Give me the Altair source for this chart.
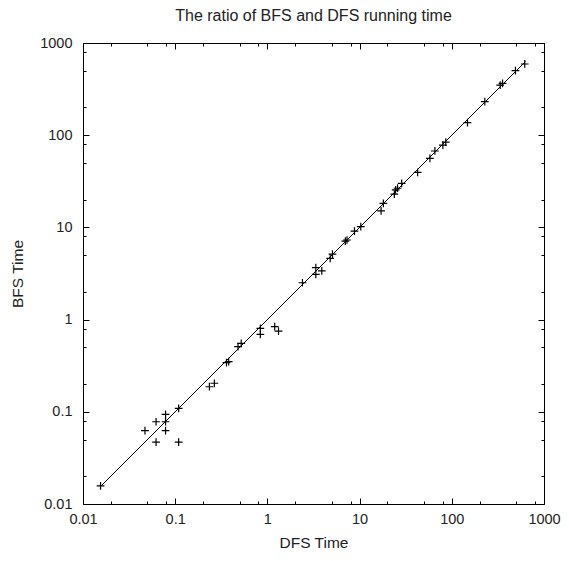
import altair as alt
import pandas as pd

# DFS time (x) and BFS time (y) per instance
dfs_time = [0.0155, 0.047, 0.062, 0.062, 0.0786, 0.0786, 0.0786, 0.109, 0.109,
            0.235, 0.266, 0.36, 0.38, 0.48, 0.52, 0.838, 0.838, 1.2, 1.32,
            2.4, 3.35, 3.89, 3.35, 4.8, 5.08, 7.0, 7.3, 8.8, 10.3,
            17.1, 18.1, 23.8, 24.6, 25.8, 28.6, 42.6, 57.9, 65.6, 80, 86,
            148, 228, 335, 355, 490, 618]
bfs_time = [0.0157, 0.0624, 0.078, 0.047, 0.094, 0.078, 0.0624, 0.109, 0.047,
            0.187, 0.204, 0.342, 0.35, 0.508, 0.553, 0.805, 0.69, 0.84, 0.75,
            2.51, 3.66, 3.37, 3.1, 4.62, 5.14, 7.1, 7.3, 9.1, 10.2,
            15.1, 18.2, 23.0, 25.5, 26.6, 30.1, 39.6, 56.0, 67.4, 78, 84,
            137, 231, 350, 365, 501, 592]

# reference line (BFS = DFS)
line_x = [0.0155, 630]
line_y = [0.0155, 630]

major_ticks = [0.01, 0.1, 1, 10, 100, 1000]
minor_ticks = [0.02, 0.05, 0.08, 0.2, 0.5, 0.8, 2, 5, 8, 20, 50, 80, 200, 500, 800]

pts = pd.DataFrame({"dfs": dfs_time, "bfs": bfs_time})
ln = pd.DataFrame({"dfs": line_x, "bfs": line_y})

FONT = "Liberation Sans"
TXT = "#222222"
MAJ = 6
MIN = 3

xs = alt.Scale(type="log", domain=[0.01, 1000], nice=False)
ys = alt.Scale(type="log", domain=[0.01, 1000], nice=False)

label_expr = "datum.value >= 1 ? format(datum.value, 'd') : format(datum.value, '')"


def axis(orient, values, size, labels=False, title=None, pad=0, tpad=0):
    kw = dict(
        orient=orient, values=values, tickSize=size, offset=-size,
        domain=False, grid=False, tickColor="black", tickWidth=1,
        labels=labels,
    )
    if labels:
        kw.update(labelFont=FONT, labelFontSize=14.5, labelColor=TXT,
                  labelPadding=pad, labelExpr=label_expr, labelFlush=False,
                  labelOverlap=False)
    if title:
        kw.update(title=title, titleFont=FONT, titleFontSize=15.5,
                  titleFontWeight="normal", titleColor=TXT, titlePadding=tpad)
    else:
        kw.update(title=None)
    return alt.Axis(**kw)


points = alt.Chart(pts).mark_point(
    shape="M-1,0L1,0M0,-1L0,1", filled=False, color="black",
    size=60, strokeWidth=1.2, opacity=1
).encode(
    x=alt.X("dfs:Q", scale=xs,
            axis=axis("bottom", major_ticks, MAJ, True, "DFS Time", 8, 10)),
    y=alt.Y("bfs:Q", scale=ys,
            axis=axis("left", major_ticks, MAJ, True, "BFS Time", 11, 14)),
)

line = alt.Chart(ln).mark_line(color="black", strokeWidth=1).encode(
    x=alt.X("dfs:Q", scale=xs, axis=axis("bottom", minor_ticks, MIN)),
    y=alt.Y("bfs:Q", scale=ys, axis=axis("left", minor_ticks, MIN)),
)

mirror_major = alt.Chart(ln).mark_line(opacity=0).encode(
    x=alt.X("dfs:Q", scale=xs, axis=axis("top", major_ticks, MAJ)),
    y=alt.Y("bfs:Q", scale=ys, axis=axis("right", major_ticks, MAJ)),
)

mirror_minor = alt.Chart(ln).mark_line(opacity=0).encode(
    x=alt.X("dfs:Q", scale=xs, axis=axis("top", minor_ticks, MIN)),
    y=alt.Y("bfs:Q", scale=ys, axis=axis("right", minor_ticks, MIN)),
)

chart = alt.layer(points, line, mirror_major, mirror_minor).resolve_axis(
    x="independent", y="independent"
).properties(
    width=461, height=461,
    title=alt.Title("The ratio of BFS and DFS running time", font=FONT,
                    fontSize=16, fontWeight="normal", color=TXT, offset=11),
    autosize=alt.AutoSizeParams(type="none"),
    padding={"left": 75, "top": 35, "right": 17, "bottom": 49},
).configure_view(stroke="black", strokeWidth=1)

chart.save("out.html", embed_options={"renderer": "svg", "actions": False})
